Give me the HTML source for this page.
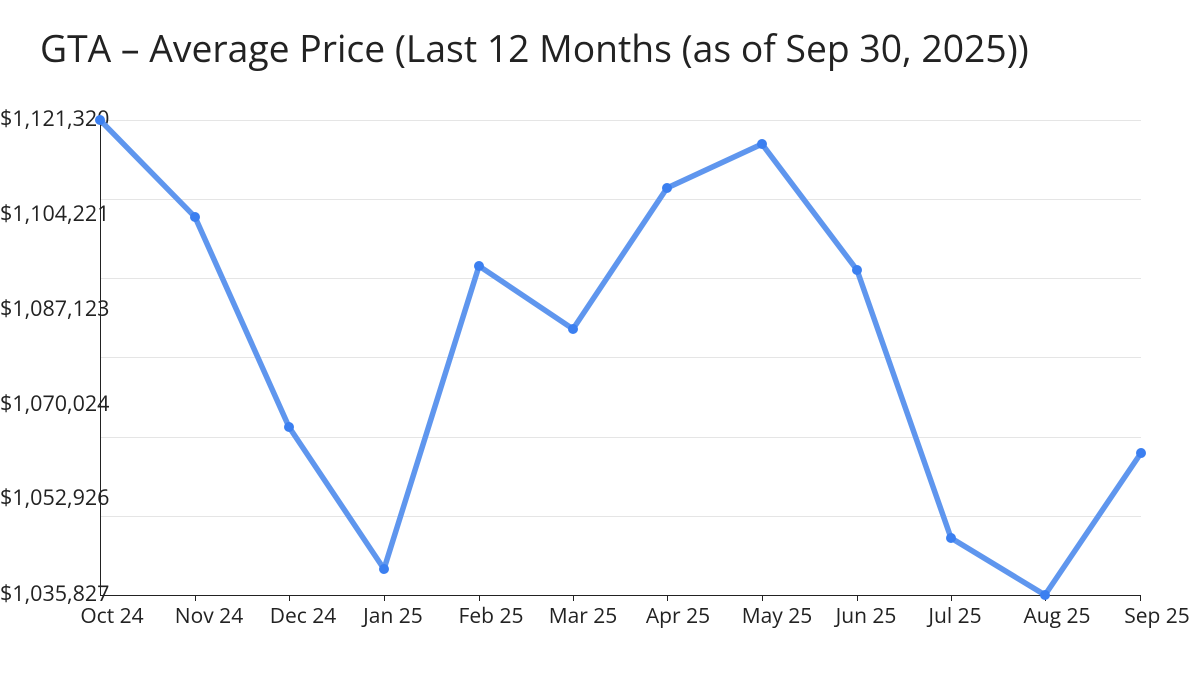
<!DOCTYPE html>
<html><head><meta charset="utf-8"><style>
html,body{margin:0;padding:0;background:#fff;width:1200px;height:675px;overflow:hidden}
text{font-family:"Open Sans","Liberation Sans","DejaVu Sans",sans-serif;fill:#222}
</style></head><body>
<svg width="1200" height="675" viewBox="0 0 1200 675" xmlns="http://www.w3.org/2000/svg">
<text x="40" y="62" font-size="37.3">GTA – Average Price (Last 12 Months (as of Sep 30, 2025))</text>
<g stroke="#e5e5e5" stroke-width="1">
<line x1="100" x2="1141" y1="120.5" y2="120.5"/>
<line x1="100" x2="1141" y1="199.5" y2="199.5"/>
<line x1="100" x2="1141" y1="278.5" y2="278.5"/>
<line x1="100" x2="1141" y1="357.5" y2="357.5"/>
<line x1="100" x2="1141" y1="437.5" y2="437.5"/>
<line x1="100" x2="1141" y1="516.5" y2="516.5"/>
</g>
<g font-size="21.5">
<text x="0" y="126">$1,121,320</text>
<text x="0" y="221">$1,104,221</text>
<text x="0" y="316">$1,087,123</text>
<text x="0" y="411">$1,070,024</text>
<text x="0" y="505">$1,052,926</text>
<text x="0" y="601">$1,035,827</text>
</g>
<line x1="100.5" y1="120" x2="100.5" y2="595" stroke="#222" stroke-width="1"/>
<line x1="100" y1="595.5" x2="1141" y2="595.5" stroke="#222" stroke-width="1"/>
<g stroke="#222" stroke-width="1">
<line x1="195.5" x2="195.5" y1="595" y2="601"/><line x1="289.5" x2="289.5" y1="595" y2="601"/>
<line x1="384.5" x2="384.5" y1="595" y2="601"/><line x1="479.5" x2="479.5" y1="595" y2="601"/>
<line x1="573.5" x2="573.5" y1="595" y2="601"/><line x1="667.5" x2="667.5" y1="595" y2="601"/>
<line x1="762.5" x2="762.5" y1="595" y2="601"/><line x1="857.5" x2="857.5" y1="595" y2="601"/>
<line x1="951.5" x2="951.5" y1="595" y2="601"/><line x1="1045.5" x2="1045.5" y1="595" y2="601"/>
<line x1="1140.5" x2="1140.5" y1="595" y2="601"/>
</g>
<g font-size="21" text-anchor="middle">
<text x="112" y="623">Oct 24</text><text x="209" y="623">Nov 24</text><text x="303" y="623">Dec 24</text>
<text x="393" y="623">Jan 25</text><text x="491" y="623">Feb 25</text><text x="583" y="623">Mar 25</text>
<text x="678" y="623">Apr 25</text><text x="777" y="623">May 25</text><text x="866" y="623">Jun 25</text>
<text x="955" y="623">Jul 25</text><text x="1057" y="623">Aug 25</text><text x="1157" y="623">Sep 25</text>
</g>
<polyline fill="none" stroke="#5f96ee" stroke-width="5.5" stroke-linejoin="round" points="100,120 195,217 289,427 384,569 479,266 573,329 667,188 762,144 857,270 951,538 1045,595 1141,453"/>
<g fill="#3b7ff0">
<circle cx="100" cy="120" r="5"/><circle cx="195" cy="217" r="5"/><circle cx="289" cy="427" r="5"/>
<circle cx="384" cy="569" r="5"/><circle cx="479" cy="266" r="5"/><circle cx="573" cy="329" r="5"/>
<circle cx="667" cy="188" r="5"/><circle cx="762" cy="144" r="5"/><circle cx="857" cy="270" r="5"/>
<circle cx="951" cy="538" r="5"/><circle cx="1045" cy="595" r="5"/><circle cx="1141" cy="453" r="5"/>
</g>
</svg>
</body></html>
